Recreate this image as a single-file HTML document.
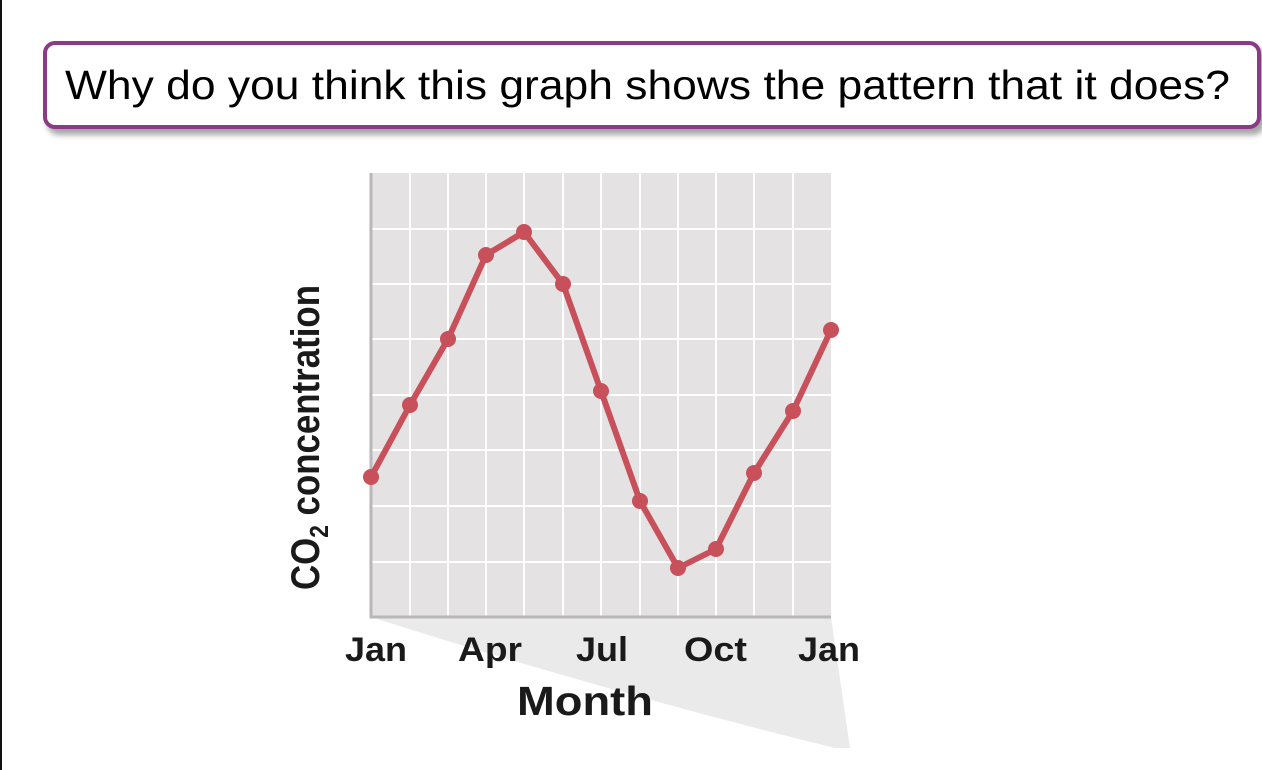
<!DOCTYPE html>
<html><head><style>
body{margin:0;width:1262px;height:770px;background:#fff;overflow:hidden;position:relative;font-family:"Liberation Sans",sans-serif}
.lb{position:absolute;left:0;top:0;width:2px;height:770px;background:#111}
.box{position:absolute;left:43px;top:41px;width:1210px;height:80px;border:4px solid #8a3a86;border-radius:12px;background:#fff;box-shadow:4px 6px 6px rgba(0,0,0,0.35)}
</style></head><body>
<div class="lb"></div>
<div class="box"></div>
<svg width="1262" height="770" style="position:absolute;left:0;top:0">
<text x="65" y="99" font-family="Liberation Sans, sans-serif" font-size="41" fill="#000" textLength="1165" lengthAdjust="spacingAndGlyphs">Why do you think this graph shows the pattern that it does?</text>
<path d="M371,617 L831,617 L850,748 L835,748 Q600,690 371,617 Z" fill="#ebeaea"/>
<rect x="371" y="173" width="460" height="444" fill="#e4e2e2"/>
<g stroke="#fff" stroke-width="2">
<line x1="410" y1="173" x2="410" y2="617"/><line x1="448" y1="173" x2="448" y2="617"/><line x1="486" y1="173" x2="486" y2="617"/><line x1="524" y1="173" x2="524" y2="617"/><line x1="563" y1="173" x2="563" y2="617"/><line x1="601" y1="173" x2="601" y2="617"/><line x1="640" y1="173" x2="640" y2="617"/><line x1="678" y1="173" x2="678" y2="617"/><line x1="716" y1="173" x2="716" y2="617"/><line x1="754" y1="173" x2="754" y2="617"/><line x1="793" y1="173" x2="793" y2="617"/>
<line x1="371" y1="229" x2="831" y2="229"/><line x1="371" y1="284" x2="831" y2="284"/><line x1="371" y1="339" x2="831" y2="339"/><line x1="371" y1="395" x2="831" y2="395"/><line x1="371" y1="450" x2="831" y2="450"/><line x1="371" y1="506" x2="831" y2="506"/><line x1="371" y1="562" x2="831" y2="562"/>
</g>
<polyline points="371,173 371,617 831,617" fill="none" stroke="#b9b7b7" stroke-width="3"/>
<polyline points="371,477 410,405 448,339 486,255 524,232 563,284 601,391 640,501 678,568 716,549 754,473 793,411 831,330" fill="none" stroke="#c8505a" stroke-width="6" stroke-linejoin="round"/>
<g fill="#c8505a">
<circle cx="371" cy="477" r="8"/><circle cx="410" cy="405" r="8"/><circle cx="448" cy="339" r="8"/><circle cx="486" cy="255" r="8"/><circle cx="524" cy="232" r="8"/><circle cx="563" cy="284" r="8"/><circle cx="601" cy="391" r="8"/><circle cx="640" cy="501" r="8"/><circle cx="678" cy="568" r="8"/><circle cx="716" cy="549" r="8"/><circle cx="754" cy="473" r="8"/><circle cx="793" cy="411" r="8"/><circle cx="831" cy="330" r="8"/>
</g>
<g font-family="Liberation Sans, sans-serif" font-weight="bold" font-size="34" fill="#1a1a1a">
<text x="345" y="661" textLength="62" lengthAdjust="spacingAndGlyphs">Jan</text>
<text x="458" y="661" textLength="64" lengthAdjust="spacingAndGlyphs">Apr</text>
<text x="576" y="661" textLength="52" lengthAdjust="spacingAndGlyphs">Jul</text>
<text x="684" y="661" textLength="63" lengthAdjust="spacingAndGlyphs">Oct</text>
<text x="798" y="661" textLength="62" lengthAdjust="spacingAndGlyphs">Jan</text>
<text x="517" y="715" font-size="41" textLength="136" lengthAdjust="spacingAndGlyphs">Month</text>
<text transform="translate(319,590) rotate(-90)" font-size="40" textLength="305" lengthAdjust="spacingAndGlyphs">CO<tspan font-size="26" dy="9">2</tspan><tspan dy="-9"> concentration</tspan></text>
</g>
</svg>
</body></html>
